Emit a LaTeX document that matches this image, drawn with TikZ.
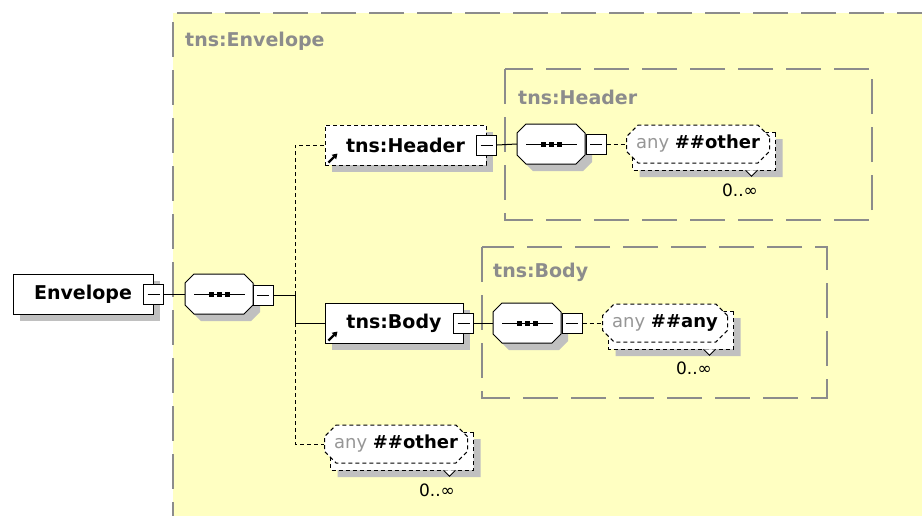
\documentclass[tikz,border=0pt]{standalone}
\usepackage{fontspec}
\setmainfont{DejaVu Sans}
\usetikzlibrary{shapes.misc,shadows,arrows.meta,calc}
\definecolor{envyellow}{RGB}{255,255,194}
\definecolor{grpgray}{RGB}{140,140,140}
\definecolor{shadowgray}{RGB}{192,192,192}
\definecolor{anygray}{RGB}{150,150,150}
\tikzset{
  sh/.style={general shadow={fill=shadowgray, shadow xshift=7pt, shadow yshift=-7pt}},
  elembox/.style={draw=black, fill=white, line width=1pt, minimum height=40, inner sep=0,
    font=\fontsize{19}{21}\selectfont\bfseries, sh},
  optdash/.style={dash pattern=on 4pt off 3pt},
  minusbox/.style={draw=black, fill=white, line width=1pt, minimum size=20, inner sep=0,
    path picture={\draw[line width=1pt] ([xshift=4pt]path picture bounding box.west) -- ([xshift=-4pt]path picture bounding box.east);}},
  seqanchor/.style={rectangle, minimum width=68, minimum height=40, inner sep=0},
  seqline/.style={draw=black, fill=white, line width=1pt},
  wfront/.style={chamfered rectangle, chamfered rectangle xsep=8pt, draw=black, fill=white,
    line width=1pt, optdash, minimum height=38, inner sep=0, font=\fontsize{18}{20}\selectfont},
  wback/.style={wfront},
  wshadow/.style={chamfered rectangle, chamfered rectangle xsep=8pt, fill=shadowgray,
    minimum height=38, inner sep=0},
  grp/.style={draw=grpgray, line width=2pt, dash pattern=on 35pt off 13pt},
  grplabel/.style={text=grpgray, font=\fontsize{19}{21}\selectfont\bfseries, anchor=west, inner sep=0},
  conn/.style={draw=black, line width=1pt},
  occ/.style={font=\fontsize{17}{19}\selectfont, inner sep=0},
  refarrow/.style={line width=2.2pt, -{Triangle[length=5pt,width=6pt]}},
}
\newcommand\octpath[2]{(#1-25,#2-20) -- (#1+25,#2-20) -- (#1+34,#2-11) -- (#1+34,#2+11) -- (#1+25,#2+20) -- (#1-25,#2+20) -- (#1-34,#2+11) -- (#1-34,#2-11) -- cycle}
\newcommand\seqnode[3]{%
  \fill[shadowgray] \octpath{#2+7}{#3+7};
  \path[seqline] \octpath{#2}{#3};
  \node[seqanchor] (#1) at (#2,#3) {};
  \draw[line width=1pt] (#2-25,#3) -- (#2+26,#3);
  \foreach \d in {-8,0,8} \fill (#2+\d-2.5,#3-2.5) rectangle ++(5,5);
}
\newcommand\wildcard[5]{%
  \node[wshadow, minimum width=#4] at (#2+13,#3+14) {};
  \node[wback, minimum width=#4] (#1b) at (#2+6,#3+7) {};
  \node[wfront, minimum width=#4] (#1) at (#2,#3) {\textcolor{anygray}{any} \textbf{#5}};
  \draw[line width=1pt, fill=white] ($(#1b.south east)+(-30,0)$) -- ++(6,6) -- ++(6,-6);
}
\begin{document}
\begin{tikzpicture}[x=1pt, y=-1pt]
\fill[white] (0,0) rectangle (922,515);
\useasboundingbox (0,0) rectangle (922,515);
\clip (0,0) rectangle (922,515);

% envelope complex type
\fill[envyellow] (173,13) rectangle (980,580);
\draw[grp] (980,13) -- (173,13) -- (173,580);
\node[grplabel] (envlbl) at (185,41) {tns:Envelope};

% groups
\draw[grp] (505,69) rectangle (872,220);
\node[grplabel] (hdrlbl) at (518,97) {tns:Header};
\draw[grp] (482,247) rectangle (827,398);
\node[grplabel] (bodylbl) at (493,272) {tns:Body};

% main element
\node[elembox, minimum width=140] (env) at (83,294) {Envelope\hspace{8pt}};
\node[minusbox] (envm) at (env.east) {};
\seqnode{seq1}{219}{294}
\node[minusbox] (seq1m) at (263,295) {};

% header
\node[elembox, optdash, minimum width=161] (hdr) at (405.5,145) {tns:Header\hspace{8pt}};
\node[minusbox] (hdrm) at (hdr.east) {};
\seqnode{seq2}{551}{144}
\node[minusbox] (seq2m) at (596,144) {};
\wildcard{wh}{698}{144}{143}{\#\#other}
\node[occ] (occh) at (740,190) {0..∞};

% body
\node[elembox, minimum width=138] (body) at (394,323) {tns:Body\hspace{8pt}};
\node[minusbox] (bodym) at (body.east) {};
\seqnode{seq3}{527}{323}
\node[minusbox] (seq3m) at (572,323) {};
\wildcard{wb}{665}{323}{125}{\#\#any}
\node[occ] (occb) at (694,368) {0..∞};

% other
\wildcard{wo}{396}{444}{143}{\#\#other}
\node[occ] (occo) at (437,490) {0..∞};

% reference arrows
\draw[refarrow] ($(hdr.south west)+(4,-3)$) -- ++(9,-9);
\draw[refarrow] ($(body.south west)+(4,-3)$) -- ++(9,-9);

% connectors
\coordinate (th) at (295,145);
\coordinate (te) at (295,295);
\coordinate (tb) at (295,323);
\coordinate (to) at (295,444);
\draw[conn] (envm.east) -- (seq1.west);
\draw[conn] (seq1m.east) -- (te);
\draw[conn, optdash] (te) -- (th) -- (hdr.west);
\draw[conn] (te) -- (tb) -- (body.west);
\draw[conn, optdash] (tb) -- (to) -- (wo.west);
\draw[conn] (hdrm.east) -- (seq2.west);
\draw[conn, optdash] (seq2m.east) -- (wh.west);
\draw[conn] (bodym.east) -- (seq3.west);
\draw[conn, optdash] (seq3m.east) -- (wb.west);
\end{tikzpicture}
\end{document}
